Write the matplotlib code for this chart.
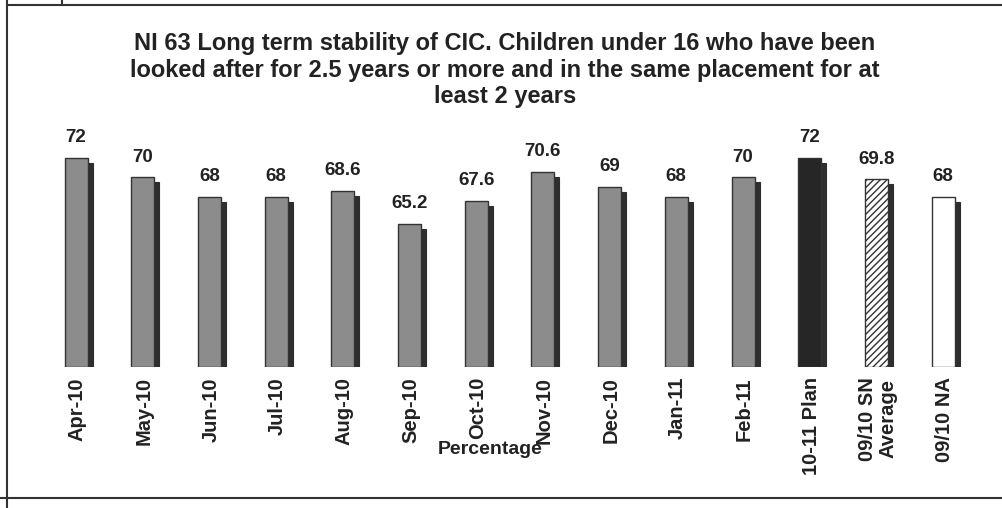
import matplotlib
matplotlib.use("Agg")
import matplotlib.pyplot as plt
from matplotlib.lines import Line2D

categories = ["Apr-10", "May-10", "Jun-10", "Jul-10", "Aug-10", "Sep-10", "Oct-10",
              "Nov-10", "Dec-10", "Jan-11", "Feb-11", "10-11 Plan", "09/10 SN\nAverage", "09/10 NA"]
values = [72, 70, 68, 68, 68.6, 65.2, 67.6, 70.6, 69, 68, 70, 72, 69.8, 68]
value_labels = ["72", "70", "68", "68", "68.6", "65.2", "67.6", "70.6", "69", "68", "70", "72", "69.8", "68"]
title = ("NI 63 Long term stability of CIC. Children under 16 who have been\n"
         "looked after for 2.5 years or more and in the same placement for at\n"
         "least 2 years")
xlabel = "Percentage"

W, H = 1002, 508
fig = plt.figure(figsize=(W / 100, H / 100), dpi=100)
fig.patch.set_facecolor("white")
plt.rcParams['font.family'] = ['Liberation Sans', 'DejaVu Sans']

def fx(px):
    return px / W

def fy(py):
    return 1 - py / H

ax_left, ax_right, ax_top, ax_bot = 20, 990, 130, 367
ax = fig.add_axes([fx(ax_left), fy(ax_bot), fx(ax_right - ax_left), fy(ax_top) - fy(ax_bot)])
ymin = 50.56
ppu_y = 9.75
ppu_x = 66.7
first_center = 76
ax.set_xlim(-(first_center - ax_left) / ppu_x, (ax_right - first_center) / ppu_x)
ax.set_ylim(ymin, ymin + (ax_bot - ax_top) / ppu_y)
ax.axis("off")

n = len(values)
xs = list(range(n))
bw = 23 / ppu_x
dx = 5 / ppu_x
dy = 5 / ppu_y
face = ["#8c8c8c"] * 11 + ["#262626", "white", "white"]
hatches = [None] * 12 + ["/////", None]

# shadows
for x, v in zip(xs, values):
    ax.bar(x + dx, v - dy - ymin, bw, bottom=ymin, color="#2e2e2e", edgecolor="#2e2e2e",
           linewidth=0.8, zorder=1)
# bars
for x, v, c, h in zip(xs, values, face, hatches):
    ax.bar(x, v - ymin, bw, bottom=ymin, color=c, edgecolor="#333333", linewidth=1.0,
           hatch=h, zorder=2)
# value labels
for x, v, t in zip(xs, values, value_labels):
    ax.annotate(t, (x, v), xytext=(0, 8.5), textcoords="offset points", ha="center", va="bottom",
                fontsize=13.5, fontweight="bold", color="#222222")

# category labels
for x, c in zip(xs, categories):
    ax.annotate(c, (x, ymin), xytext=(1, -7.2), textcoords="offset points", rotation=90,
                ha="center", va="top", fontsize=14.5, fontweight="bold", color="#222222",
                linespacing=1.1, annotation_clip=False)

fig.text(fx(490), fy(450), xlabel, ha="center", va="center", fontsize=14, fontweight="bold",
         color="#222222")
fig.text(fx(505), fy(32), title, ha="center", va="top", fontsize=17, fontweight="bold",
         color="#222222", linespacing=1.2)

# frame
lines = [((7, 1002), (5, 5)), ((7, 7), (0, 508)), ((0, 1002), (498, 498)), ((62, 62), (0, 5))]
for (x0, x1), (y0, y1) in lines:
    fig.add_artist(Line2D([fx(x0), fx(x1)], [fy(y0), fy(y1)], color="#333333", linewidth=1.5))

fig.savefig("out.png", dpi=100)
